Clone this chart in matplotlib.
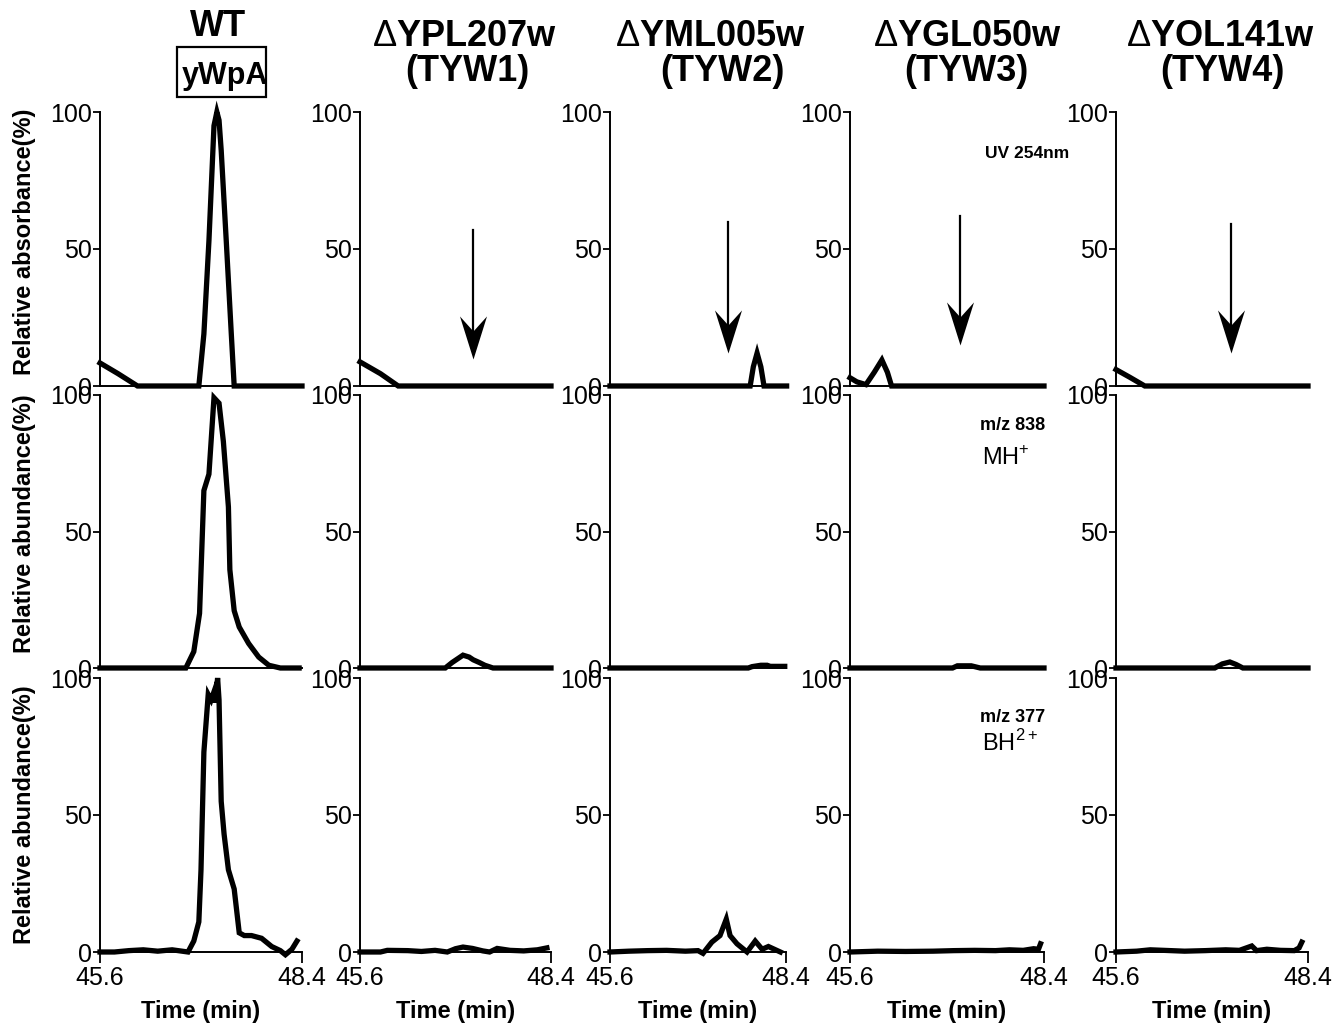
import matplotlib
matplotlib.use("Agg")
import matplotlib.pyplot as plt
from matplotlib.path import Path
from matplotlib.patches import Rectangle

plt.rcParams['font.family'] = ['Liberation Sans', 'DejaVu Sans']
plt.rcParams['mathtext.fontset'] = 'custom'
plt.rcParams['mathtext.rm'] = 'Liberation Sans'

# ---- data ----
strains = ["WT", r"$\Delta$YPL207w", r"$\Delta$YML005w", r"$\Delta$YGL050w", r"$\Delta$YOL141w"]
genes = ["", "(TYW1)", "(TYW2)", "(TYW3)", "(TYW4)"]
row_labels = ["Relative absorbance(%)", "Relative abundance(%)", "Relative abundance(%)"]
x_ticks = [45.6, 48.4]
y_ticks = [0, 50, 100]

# row 1: UV 254 nm
t_uv_wt = [45.6, 45.85, 46.12, 46.5, 46.97, 47.04, 47.11, 47.18, 47.22, 47.25, 47.28, 47.35, 47.42, 47.46, 47.8, 48.4]
uv_wt = [8.4, 4.5, 0, 0, 0, 19, 53, 95, 100, 97, 86, 53, 19, 0, 0, 0]
t_uv_tyw1 = [45.6, 45.9, 46.16, 47.0, 48.4]
uv_tyw1 = [8.8, 4.5, 0, 0, 0]
t_uv_tyw2 = [45.6, 47.0, 47.83, 47.88, 47.94, 48.0, 48.05, 48.41]
uv_tyw2 = [0, 0, 0, 7, 12, 7, 0, 0]
t_uv_tyw3 = [45.6, 45.7, 45.83, 45.95, 46.06, 46.14, 46.2, 48.4]
uv_tyw3 = [3, 1.5, 0.5, 5, 9.5, 5, 0, 0]
t_uv_tyw4 = [45.6, 45.8, 46.02, 47.0, 48.4]
uv_tyw4 = [6, 3.2, 0, 0, 0]

# row 2: m/z 838 (MH+)
t_mh_wt = [45.6, 46.3, 46.79, 46.9, 46.98, 47.04, 47.11, 47.18, 47.25, 47.31, 47.38, 47.40, 47.46, 47.53, 47.66, 47.80, 47.94, 48.1, 48.36]
mh_wt = [0, 0, 0, 6, 20, 65, 71, 99, 97, 83, 59, 36, 21, 15, 9, 4, 1, 0, 0]
t_mh_tyw1 = [45.6, 46.85, 46.95, 47.11, 47.2, 47.26, 47.35, 47.43, 47.55, 48.4]
mh_tyw1 = [0, 0, 2, 4.7, 4, 3, 2, 1, 0, 0]
t_mh_tyw2 = [45.6, 47.0, 47.8, 47.86, 48.0, 48.1, 48.15, 48.38]
mh_tyw2 = [0, 0, 0, 0.5, 1, 1, 0.6, 0.6]
t_mh_tyw3 = [45.6, 46.5, 47.08, 47.15, 47.35, 47.48, 48.4]
mh_tyw3 = [0, 0, 0, 0.8, 0.8, 0, 0]
t_mh_tyw4 = [45.6, 46.5, 47.04, 47.15, 47.26, 47.35, 47.45, 48.4]
mh_tyw4 = [0, 0, 0, 1.5, 2.2, 1.3, 0, 0]

# row 3: m/z 377 (BH2+)
t_bh_wt = [45.6, 45.8, 46.0, 46.2, 46.4, 46.6, 46.82, 46.9, 46.97, 47.0, 47.04, 47.1, 47.14, 47.18, 47.2, 47.23,
           47.25, 47.28, 47.32, 47.38, 47.46, 47.53, 47.6, 47.7, 47.84, 47.98, 48.1, 48.17, 48.26, 48.33]
bh_wt = [0, 0, 0.5, 0.8, 0.3, 0.8, 0, 4, 11, 30, 73, 94, 92, 95, 91, 100,
         92, 55, 43, 30, 23, 7, 6, 6, 5, 2, 0.5, -1, 1, 4]
t_bh_tyw1 = [45.6, 45.9, 46.0, 46.3, 46.5, 46.7, 46.88, 47.0, 47.11, 47.25, 47.4, 47.5, 47.61, 47.8, 48.0, 48.2, 48.34]
bh_tyw1 = [0, 0, 0.6, 0.5, 0.2, 0.6, 0, 1.2, 1.8, 1.3, 0.4, 0, 1.3, 0.6, 0.4, 0.8, 1.5]
t_bh_tyw2 = [45.6, 45.9, 46.2, 46.5, 46.8, 47.0, 47.08, 47.22, 47.35, 47.45, 47.51, 47.62, 47.78, 47.91, 48.02, 48.12, 48.31]
bh_tyw2 = [0, 0.3, 0.5, 0.6, 0.3, 0.5, -0.5, 3.6, 6, 12, 6, 3, 0, 4, 1, 2, 0]
t_bh_tyw3 = [45.6, 46.0, 46.4, 46.8, 47.1, 47.4, 47.7, 47.9, 48.1, 48.25, 48.32, 48.35]
bh_tyw3 = [0, 0.3, 0.2, 0.3, 0.5, 0.6, 0.5, 0.8, 0.6, 1.2, 1, 3]
t_bh_tyw4 = [45.6, 45.9, 46.1, 46.3, 46.6, 46.9, 47.2, 47.4, 47.58, 47.65, 47.8, 48.0, 48.2, 48.27, 48.31]
bh_tyw4 = [0, 0.3, 0.8, 0.6, 0.3, 0.5, 0.8, 0.6, 2.2, 0.5, 1, 0.6, 0.5, 1.5, 3.6]

traces = [
    [(t_uv_wt, uv_wt), (t_uv_tyw1, uv_tyw1), (t_uv_tyw2, uv_tyw2), (t_uv_tyw3, uv_tyw3), (t_uv_tyw4, uv_tyw4)],
    [(t_mh_wt, mh_wt), (t_mh_tyw1, mh_tyw1), (t_mh_tyw2, mh_tyw2), (t_mh_tyw3, mh_tyw3), (t_mh_tyw4, mh_tyw4)],
    [(t_bh_wt, bh_wt), (t_bh_tyw1, bh_tyw1), (t_bh_tyw2, bh_tyw2), (t_bh_tyw3, bh_tyw3), (t_bh_tyw4, bh_tyw4)],
]

# arrows marking the missing peak in the UV traces (columns 2-5)
arrow_x = [47.26, 47.48, 47.19, 47.28]
arrow_top = [57, 60, 62, 59]
arrow_tip = [10, 12, 15, 12]

# ---- layout (pixel boxes of the reference) ----
W, H = 1343, 1025
col_left = [100, 360, 610, 850, 1116]
col_right = [302, 551, 786, 1044, 1308]
row_top = [112, 395, 678]
row_bottom = [386, 668, 952]
label_y = [242, 524, 815]

fig = plt.figure(figsize=(W / 100, H / 100), dpi=100)


def fx(px):
    return px / W


def fy(py):
    return 1 - py / H


# concave arrow head, tip at origin
head = Path([(0, 0), (-13.5, 43), (0, 28), (13.5, 43), (0, 0)],
            [Path.MOVETO, Path.LINETO, Path.LINETO, Path.LINETO, Path.CLOSEPOLY])

for r in range(3):
    for c in range(5):
        ax = fig.add_axes([fx(col_left[c]), fy(row_bottom[r]),
                           fx(col_right[c] - col_left[c]), (row_bottom[r] - row_top[r]) / H])
        t, y = traces[r][c]
        ax.plot(t, y, color='black', lw=3.8, solid_joinstyle='miter', clip_on=False, zorder=3)
        ax.set_xlim(x_ticks[0], x_ticks[1])
        ax.set_ylim(0, 100)
        ax.set_facecolor('none')
        for s in ['top', 'right']:
            ax.spines[s].set_visible(False)
        for s in ['left', 'bottom']:
            ax.spines[s].set_linewidth(1.4)
        ax.set_yticks(y_ticks)
        ax.tick_params(axis='y', direction='out', length=5, width=1.3, pad=1, labelsize=18)
        if r == 2:
            ax.set_xticks(x_ticks)
            ax.set_xticklabels(["45.6", "48.4"])
            ax.tick_params(axis='x', direction='out', length=8, width=1.3, pad=2, labelsize=18)
            ax.set_xlabel("Time (min)", fontsize=17, fontweight='bold', labelpad=7)
        else:
            ax.set_xticks([])
        if r == 0 and c > 0:
            i = c - 1
            ax.plot([arrow_x[i], arrow_x[i]], [arrow_top[i], arrow_tip[i] + 6], color='black', lw=1.6)
            ax.plot([arrow_x[i]], [arrow_tip[i]], marker=head, markersize=62, color='black', markeredgewidth=0)

# row labels
for r in range(3):
    fig.text(fx(25), fy(label_y[r]), row_labels[r], rotation=90, ha='center', va='center',
             fontsize=17, fontweight='bold')

# column headers
head_x = [218, 464, 710, 967, 1220]
gene_x = [218, 467, 722, 966, 1222]
for c in range(5):
    if c == 0:
        fig.text(fx(head_x[c]), fy(27), strains[c], ha='center', va='center', fontsize=26, fontweight='bold')
    else:
        fig.text(fx(head_x[c]), fy(36), strains[c], ha='center', va='center', fontsize=26, fontweight='bold')
        fig.text(fx(gene_x[c]), fy(71), genes[c], ha='center', va='center', fontsize=26, fontweight='bold')

# boxed compound name under WT
fig.patches.append(Rectangle((fx(177), fy(97)), fx(89), 50 / H, transform=fig.transFigure,
                             fill=False, edgecolor='black', lw=1.6))
fig.text(fx(225), fy(76), "yWpA", ha='center', va='center', fontsize=22, fontweight='bold')

# trace annotations
fig.text(fx(1027), fy(153), "UV 254nm", ha='center', va='center', fontsize=12.5, fontweight='bold')
fig.text(fx(1013), fy(426), "m/z 838", ha='center', va='center', fontsize=13, fontweight='bold')
fig.text(fx(982), fy(458), r"MH$^{+}$", ha='left', va='center', fontsize=17)
fig.text(fx(1013), fy(718), "m/z 377", ha='center', va='center', fontsize=13, fontweight='bold')
fig.text(fx(982), fy(743), r"BH$^{2+}$", ha='left', va='center', fontsize=17)

fig.savefig("out.png", dpi=100)
